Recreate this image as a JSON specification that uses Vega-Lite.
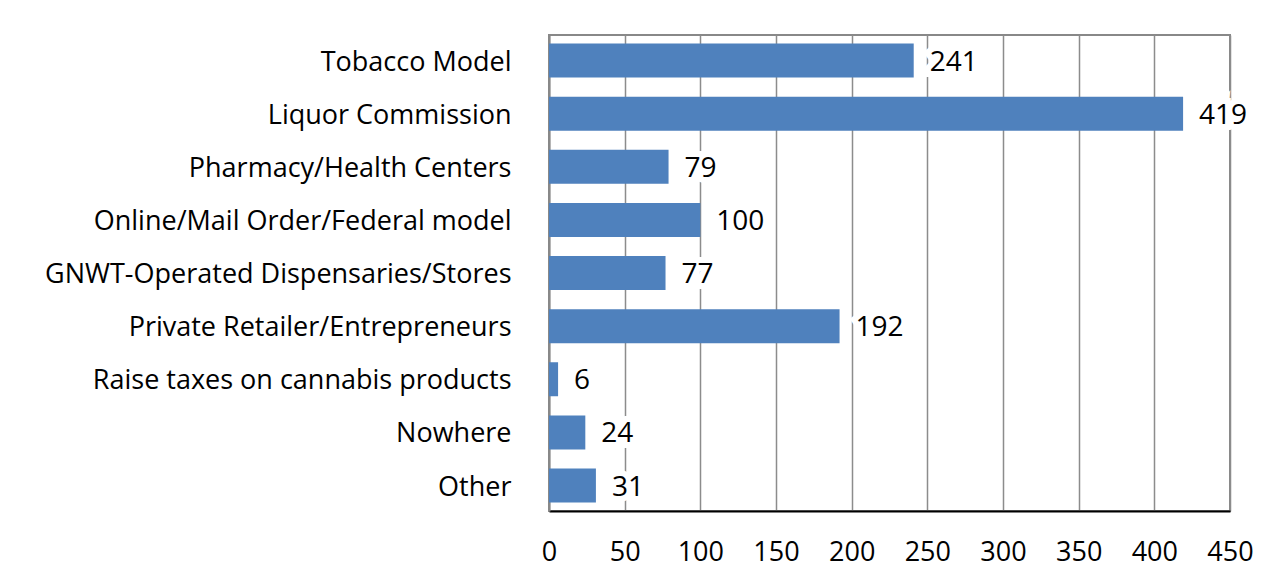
{
  "$schema": "https://vega.github.io/schema/vega-lite/v6.json",
  "autosize": "none",
  "width": 681,
  "height": 476,
  "padding": {"left": 549, "top": 35, "right": 48, "bottom": 72},
  "background": "white",
  "config": {
    "view": {"stroke": "#888888", "strokeWidth": 2},
    "font": "Open Sans"
  },
  "data": {
    "values": [
      {"category": "Tobacco Model", "count": 241},
      {"category": "Liquor Commission", "count": 419},
      {"category": "Pharmacy/Health Centers", "count": 79},
      {"category": "Online/Mail Order/Federal model", "count": 100},
      {"category": "GNWT-Operated Dispensaries/Stores", "count": 77},
      {"category": "Private Retailer/Entrepreneurs", "count": 192},
      {"category": "Raise taxes on cannabis products", "count": 6},
      {"category": "Nowhere", "count": 24},
      {"category": "Other", "count": 31}
    ]
  },
  "encoding": {
    "y": {
      "field": "category",
      "type": "nominal",
      "sort": null,
      "scale": {"paddingInner": 0.36, "paddingOuter": 0.16},
      "axis": {
        "title": null,
        "ticks": false,
        "labelFontSize": 27,
        "labelColor": "#000000",
        "labelPadding": 38,
        "labelOffset": 2,
        "labelLimit": 600,
        "domainColor": "#888888",
        "domainWidth": 2
      }
    },
    "x": {
      "field": "count",
      "type": "quantitative",
      "scale": {"domain": [0, 450], "nice": false},
      "axis": {
        "title": null,
        "values": [0, 50, 100, 150, 200, 250, 300, 350, 400, 450],
        "ticks": false,
        "labelFontSize": 27,
        "labelColor": "#000000",
        "labelPadding": 28,
        "labelFlush": false,
        "grid": true,
        "gridColor": "#8c8c8c",
        "gridWidth": 1.5,
        "domainColor": "#000000",
        "domainWidth": 2
      }
    }
  },
  "layer": [
    {"mark": {"type": "bar", "color": "#4F81BD"}},
    {
      "mark": {"type": "text", "align": "left", "baseline": "middle", "dx": 16, "dy": 2, "fontSize": 28, "stroke": "white", "strokeWidth": 12, "fill": "white"},
      "encoding": {"text": {"field": "count", "type": "quantitative"}}
    },
    {
      "mark": {"type": "text", "align": "left", "baseline": "middle", "dx": 16, "dy": 2, "fontSize": 28, "color": "#000000"},
      "encoding": {"text": {"field": "count", "type": "quantitative"}}
    },
    {
      "data": {"values": [{}]},
      "mark": {"type": "rule", "color": "#000000", "strokeWidth": 2},
      "encoding": {"x": {"datum": 450}, "y": {"value": 0}, "y2": {"value": 476}}
    }
  ]
}
